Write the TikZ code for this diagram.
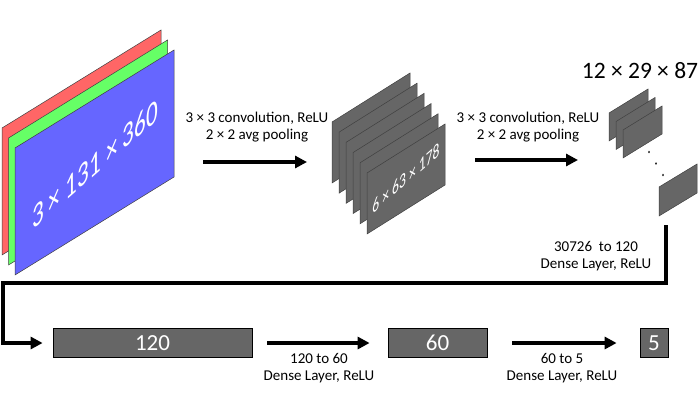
\documentclass[tikz,border=0pt]{standalone}
\usepackage{fontspec}
\setmainfont{Carlito}
\usetikzlibrary{arrows.meta,positioning}

\definecolor{planered}{RGB}{255,102,102}
\definecolor{planegreen}{RGB}{102,255,102}
\definecolor{planeblue}{RGB}{102,102,255}
\definecolor{fmapgray}{RGB}{102,102,102}

\tikzset{
  plane/.style={draw=black!75, line width=0.5pt},
  fmap/.style={plane, fill=fmapgray},
  layerbox/.style={fill=fmapgray, draw=black, line width=0.8pt, text=white,
    inner sep=0pt, font=\fontsize{23}{26}\selectfont},
  mapsize/.style={text=white, inner sep=0pt, xscale=0.68, yslant=0.6},
  flow/.style={line width=3.5pt, line join=miter, -{Triangle[length=12pt,width=12pt]}},
  steplabel/.style={align=center, inner sep=0pt, font=\fontsize{15}{17.5}\selectfont},
}

\begin{document}
\begin{tikzpicture}[x=1pt,y=-1pt]
  \useasboundingbox (0,0) rectangle (700,410);

  % input image, three colour planes
  \foreach \col [count=\i from 0] in {planered,planegreen,planeblue}
    \draw[plane, fill=\col] (2+6.5*\i,128+10*\i) -- ++(159,-98) -- ++(0,127) -- ++(-159,98) -- cycle;
  \node[mapsize, font=\fontsize{34}{34}\selectfont] (insize) at (95,164) {3 × 131 × 360};

  % first conv block
  \coordinate (conva) at (203,162);
  \coordinate (convb) at (307,162);
  \draw[flow] (conva) -- (convb);
  \node[steplabel] (convlabela) at (257,127) {3 × 3 convolution, ReLU\\2 × 2 avg pooling};

  % six feature maps
  \foreach \i in {0,...,5}
    \draw[fmap] (332+7*\i,122+10.2*\i) -- ++(78,-49) -- ++(0,61) -- ++(-78,49) -- cycle;
  \node[mapsize, font=\fontsize{20}{20}\selectfont] (midsize) at (406,178) {6 × 63 × 178};

  % second conv block
  \coordinate (convc) at (475,160);
  \coordinate (convd) at (578,160);
  \draw[flow] (convc) -- (convd);
  \node[steplabel] (convlabelb) at (528,127) {3 × 3 convolution, ReLU\\2 × 2 avg pooling};

  % twelve small feature maps
  \foreach \i in {0,1,2}
    \draw[fmap] (609+7*\i,113+8.5*\i) -- ++(39,-24) -- ++(0,28) -- ++(-39,24) -- cycle;
  \foreach \i in {0,1,2}
    \fill (649+7*\i,152+11.5*\i) ellipse (0.8 and 1.4);
  \draw[fmap] (659,187) -- ++(38,-23) -- ++(0,29) -- ++(-38,23) -- cycle;
  \node[font=\fontsize{23.5}{23.5}\selectfont, inner sep=0pt] (topsize) at (640,71) {12 × 29 × 87};

  % dense layers
  \node[layerbox, minimum width=199pt, minimum height=29pt] (hida) at (152.5,343) {120};
  \node[layerbox, minimum width=99pt, minimum height=29pt] (hidb) at (437.5,343) {60};
  \node[layerbox, minimum width=28pt, minimum height=29pt] (outc) at (654,343) {5};

  \coordinate (fold) at (666,225);
  \coordinate (turn) at (3,283);
  \draw[flow, shorten >=10pt] (fold) |- (turn) |- (hida.west);
  \node[steplabel] (denselabela) at (596,256) {30726\ \ to 120\\Dense Layer, ReLU};

  \draw[flow, shorten <=15pt, shorten >=18pt] (hida.east) -- (hidb.west);
  \node[steplabel] (denselabelb) at (319,368) {120 to 60\\Dense Layer, ReLU};

  \draw[flow, shorten <=25pt, shorten >=23pt] (hidb.east) -- (outc.west);
  \node[steplabel] (denselabelc) at (562,368) {60 to 5\\Dense Layer, ReLU};
\end{tikzpicture}
\end{document}
